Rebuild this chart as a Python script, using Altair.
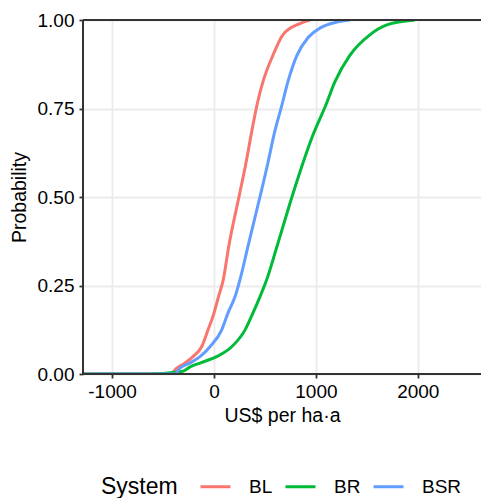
import altair as alt
import pandas as pd

systems = ["BL", "BR", "BSR"]
colors = ["#F8766D", "#00BA38", "#619CFF"]

# values (US$ per ha·a) read at cumulative probabilities
bl_x = [-1285, -431, -363, -284, -206, -121, -59, 0, 44, 91, 147, 245, 314, 373, 422, 480, 578, 676, 843, 941]
bl_p = [0.0, 0.0, 0.017, 0.031, 0.049, 0.077, 0.124, 0.172, 0.218, 0.266, 0.364, 0.50, 0.596, 0.689, 0.76, 0.825, 0.90, 0.958, 0.99, 1.0]

br_x = [-1285, -657, -304, -235, -137, 26, 174, 304, 382, 451, 517, 618, 765, 873, 971, 1098, 1186, 1333, 1529, 1696, 1971]
br_p = [0.0, 0.0, 0.008, 0.02, 0.031, 0.049, 0.077, 0.124, 0.172, 0.218, 0.266, 0.36, 0.5, 0.596, 0.675, 0.76, 0.825, 0.90, 0.958, 0.986, 1.0]

bsr_x = [-1285, -382, -333, -235, -137, -39, 75, 137, 206, 255, 333, 451, 529, 588, 667, 725, 814, 922, 1039, 1206, 1333]
bsr_p = [0.0, 0.0, 0.017, 0.031, 0.049, 0.077, 0.124, 0.172, 0.218, 0.266, 0.36, 0.5, 0.596, 0.675, 0.76, 0.825, 0.90, 0.95, 0.977, 0.994, 1.0]

x_ticks = [-1000, 0, 1000, 2000]
y_ticks = [0.0, 0.25, 0.5, 0.75, 1.0]
x_domain = [-1285, 2620]

rows = []
for name, xs, ps in [("BL", bl_x, bl_p), ("BR", br_x, br_p), ("BSR", bsr_x, bsr_p)]:
    for i, (xv, pv) in enumerate(zip(xs, ps)):
        rows.append({"System": name, "value": xv, "prob": pv, "order": i})
df = pd.DataFrame(rows)

FONT = "Liberation Sans"
AX = "#333333"

xscale = alt.Scale(domain=x_domain, nice=False, zero=False)
yscale = alt.Scale(domain=[0, 1], nice=False)

lines = alt.Chart(df).mark_line(strokeWidth=3, interpolate="monotone", clip=True).encode(
    x=alt.X("value:Q", scale=xscale, title="US$ per ha·a",
            axis=alt.Axis(values=x_ticks, labelExpr="'' + datum.value", domain=False,
                          tickSize=4, tickWidth=1.8, tickColor=AX, labelPadding=4,
                          titlePadding=5, gridColor="#EBEBEB", gridWidth=1.8)),
    y=alt.Y("prob:Q", scale=yscale, title="Probability",
            axis=alt.Axis(values=y_ticks, format=".2f", domain=False,
                          tickSize=4, tickWidth=1.8, tickColor=AX, labelPadding=5,
                          titlePadding=8, gridColor="#EBEBEB", gridWidth=1.8)),
    color=alt.Color("System:N", scale=alt.Scale(domain=systems, range=colors),
                    legend=alt.Legend(orient="none", legendX=18, legendY=450, direction="horizontal",
                                      titleOrient="left", titleAnchor="middle",
                                      titleBaseline="line-top", titleLineHeight=9,
                                      symbolType="stroke", symbolSize=900,
                                      symbolStrokeWidth=3, labelOffset=17, columnPadding=6,
                                      titlePadding=21, titleFontSize=23, labelFontSize=19,
                                      titleFontWeight="normal", titleColor="#000000",
                                      labelColor="#000000")),
    order="order:Q",
)

bottom = alt.Chart(df).mark_rule(color=AX, strokeWidth=1.8).encode(y=alt.datum(0))
top = alt.Chart(df).mark_rule(color=AX, strokeWidth=1.8).encode(y=alt.datum(1))
left = alt.Chart(df).mark_rule(color=AX, strokeWidth=1.8).encode(x=alt.datum(-1285))

chart = alt.layer(lines, bottom, top, left).properties(
    width=398, height=354,
    autosize=alt.AutoSizeParams(type="none"),
    padding={"left": 83, "top": 20, "right": 0, "bottom": 124},
).configure_view(stroke=None).configure_axis(
    labelFont=FONT, titleFont=FONT, labelFontSize=19, titleFontSize=19.5,
    labelColor="#000000", titleColor="#000000", titleFontWeight="normal",
).configure_legend(labelFont=FONT, titleFont=FONT)

chart.save("out.html", embed_options={"renderer": "svg", "actions": False})
